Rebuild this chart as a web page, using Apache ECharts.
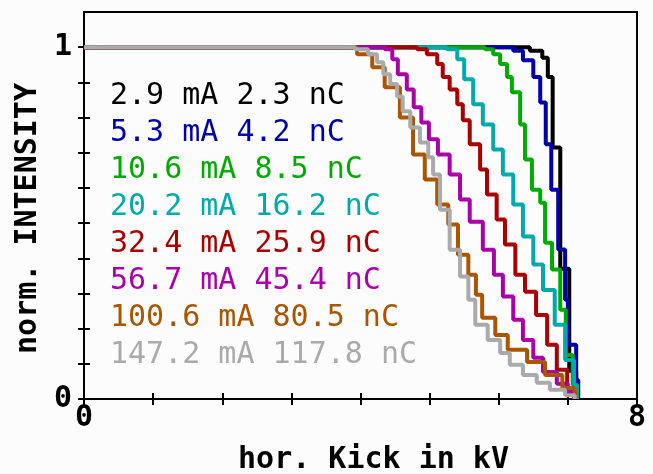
<!DOCTYPE html>
<html><head><meta charset="utf-8">
<script src="https://cdn.jsdelivr.net/npm/echarts@6/dist/echarts.min.js"></script>
<style>html,body{margin:0;padding:0;background:#fcfcfc}#c{width:653px;height:474px}</style>
</head><body><div id="c"></div><script>
const seriesNames = ['2.9 mA 2.3 nC','5.3 mA 4.2 nC','10.6 mA 8.5 nC','20.2 mA 16.2 nC','32.4 mA 25.9 nC','56.7 mA 45.4 nC','100.6 mA 80.5 nC','147.2 mA 117.8 nC'];
const seriesColors = ['#000000','#0000aa','#00aa00','#00aaaa','#aa0000','#aa00aa','#aa5500','#aaaaaa'];

const kick_2_9 = [0, 6.16, 6.45, 6.63, 6.71, 6.78, 6.89, 7.02, 7.12];
const int_2_9  = [1, 1, 0.99, 0.97, 0.915, 0.715, 0.37, 0.08, 0];

const kick_5_3 = [0, 5.95, 6.21, 6.35, 6.50, 6.60, 6.68, 6.76, 6.86, 6.96, 7.00, 7.12, 7.15];
const int_5_3  = [1, 1, 0.99, 0.963, 0.915, 0.843, 0.724, 0.595, 0.425, 0.282, 0.154, 0.054, 0];

const kick_10_6 = [0, 5.51, 5.80, 5.92, 6.02, 6.12, 6.19, 6.31, 6.38, 6.48, 6.60, 6.67, 6.77, 6.89, 6.97, 7.07, 7.13];
const int_10_6  = [1, 1, 0.994, 0.98, 0.952, 0.915, 0.872, 0.78, 0.681, 0.595, 0.558, 0.444, 0.368, 0.254, 0.125, 0.04, 0];

const kick_20_2 = [0, 5.08, 5.25, 5.40, 5.50, 5.63, 5.77, 5.92, 6.06, 6.21, 6.35, 6.50, 6.64, 6.81, 6.96, 7.09, 7.13];
const int_20_2  = [1, 1, 0.994, 0.966, 0.909, 0.838, 0.78, 0.709, 0.638, 0.553, 0.462, 0.382, 0.31, 0.211, 0.111, 0.04, 0];

const kick_32_4 = [0, 4.69, 4.82, 4.96, 5.11, 5.19, 5.29, 5.40, 5.48, 5.58, 5.73, 5.83, 5.97, 6.09, 6.24, 6.38, 6.54, 6.70, 6.84, 6.99, 7.09];
const int_32_4  = [1, 1, 0.994, 0.98, 0.952, 0.915, 0.88, 0.838, 0.792, 0.724, 0.652, 0.581, 0.51, 0.439, 0.353, 0.305, 0.239, 0.154, 0.083, 0.026, 0];

const kick_56_7 = [0, 4.21, 4.35, 4.46, 4.54, 4.67, 4.77, 4.88, 4.99, 5.12, 5.29, 5.44, 5.58, 5.77, 5.93, 6.06, 6.21, 6.35, 6.50, 6.64, 6.84, 7.00, 7.10];
const int_56_7  = [1, 1, 0.994, 0.966, 0.923, 0.88, 0.829, 0.786, 0.738, 0.695, 0.638, 0.567, 0.504, 0.424, 0.353, 0.291, 0.225, 0.168, 0.117, 0.077, 0.043, 0.02, 0];

const kick_100_6 = [0, 3.78, 3.95, 4.17, 4.35, 4.57, 4.76, 4.93, 5.11, 5.27, 5.41, 5.56, 5.67, 5.76, 5.95, 6.13, 6.41, 6.67, 6.92, 7.10];
const int_100_6  = [1, 1, 0.98, 0.943, 0.886, 0.80, 0.695, 0.624, 0.553, 0.496, 0.41, 0.353, 0.296, 0.231, 0.182, 0.14, 0.105, 0.068, 0.031, 0];

const kick_147_2 = [0, 3.78, 3.92, 4.11, 4.24, 4.33, 4.43, 4.53, 4.61, 4.72, 4.86, 4.98, 5.05, 5.15, 5.29, 5.44, 5.56, 5.66, 5.84, 6.02, 6.16, 6.35, 6.55, 6.74, 6.96, 7.10];
const int_147_2  = [1, 1, 0.994, 0.98, 0.957, 0.923, 0.895, 0.86, 0.818, 0.772, 0.729, 0.687, 0.638, 0.538, 0.424, 0.348, 0.282, 0.211, 0.168, 0.131, 0.097, 0.068, 0.046, 0.026, 0.011, 0];

const xTickValues = [0, 1, 2, 3, 4, 5, 6, 7, 8];
const xLabelValues = [0, 8];
const yTickValues = [0, 0.1, 0.2, 0.3, 0.4, 0.5, 0.6, 0.7, 0.8, 0.9, 1];
const yLabelValues = [0, 1];

const kicks = [kick_2_9, kick_5_3, kick_10_6, kick_20_2, kick_32_4, kick_56_7, kick_100_6, kick_147_2];
const ints  = [int_2_9, int_5_3, int_10_6, int_20_2, int_32_4, int_56_7, int_100_6, int_147_2];

const mono = 'DejaVu Sans Mono';
const chart = echarts.init(document.getElementById('c'), null, {renderer: 'canvas'});

const tickStyle = {color: '#000', width: 2};
const labelFont = {fontFamily: mono, fontSize: 30, fontWeight: 'bold', color: '#000'};
const gridRect = {left: 84, right: 16, top: 12, bottom: 75, containLabel: false, outerBoundsMode: 'none'};

const lineSeries = seriesNames.map((n, i) => ({
  name: n, type: 'line', step: 'end', symbol: 'none', xAxisIndex: 0, yAxisIndex: 0,
  color: seriesColors[i],
  lineStyle: {color: seriesColors[i], width: 4},
  data: kicks[i].map((k, j) => [k, ints[i][j]])
}));
// empty helper series so that the second (tick-only) coordinate system is built
lineSeries.push({type: 'scatter', xAxisIndex: 1, yAxisIndex: 1, data: [], silent: true, symbolSize: 0});

chart.setOption({
  animation: false,
  backgroundColor: '#fcfcfc',
  grid: [
    Object.assign({show: true, borderColor: '#000', borderWidth: 2, backgroundColor: 'transparent'}, gridRect),
    Object.assign({show: false}, gridRect)
  ],
  legend: {
    orient: 'vertical', left: 105, top: 81, icon: 'none', itemWidth: 0, itemHeight: 30, itemGap: 7, padding: 0,
    selectedMode: false,
    textStyle: {fontFamily: mono, fontSize: 30, padding: 0},
    data: seriesNames.map((n, i) => ({name: n, textStyle: {color: seriesColors[i]}}))
  },
  xAxis: [{
    gridIndex: 0, type: 'value', min: 0, max: 8, interval: 1, position: 'bottom',
    axisLine: {show: true, onZero: false, lineStyle: {color: '#000', width: 2}},
    splitLine: {show: false},
    name: 'hor. Kick in kV', nameLocation: 'middle', nameGap: 46,
    nameTextStyle: Object.assign({padding: [0, 0, 0, 26]}, labelFont),
    axisTick: {show: true, length: 6, inside: false, customValues: xTickValues, lineStyle: tickStyle},
    axisLabel: Object.assign({show: true, customValues: xLabelValues, margin: 4}, labelFont)
  }, {
    gridIndex: 1, type: 'value', min: 0, max: 8, interval: 1, position: 'bottom',
    axisLine: {show: true, onZero: false, lineStyle: {color: '#000', width: 2}},
    splitLine: {show: false},
    axisTick: {show: true, length: 6, inside: true, customValues: xTickValues, lineStyle: tickStyle},
    axisLabel: {show: false}
  }],
  yAxis: [{
    gridIndex: 0, type: 'value', min: 0, max: 1.1, interval: 0.1, position: 'left',
    axisLine: {show: true, onZero: false, lineStyle: {color: '#000', width: 2}},
    splitLine: {show: false},
    name: 'norm. INTENSITY', nameLocation: 'middle', nameGap: 35, nameRotate: 90,
    nameTextStyle: Object.assign({padding: [0, 26, 0, 0]}, labelFont),
    axisTick: {show: true, length: 6, inside: false, customValues: yTickValues, lineStyle: tickStyle},
    axisLabel: Object.assign({show: true, customValues: yLabelValues, margin: 12}, labelFont)
  }, {
    gridIndex: 1, type: 'value', min: 0, max: 1.1, interval: 0.1, position: 'left',
    axisLine: {show: true, onZero: false, lineStyle: {color: '#000', width: 2}},
    splitLine: {show: false},
    axisTick: {show: true, length: 6, inside: true, customValues: yTickValues, lineStyle: tickStyle},
    axisLabel: {show: false}
  }],
  series: lineSeries
});
</script></body></html>
